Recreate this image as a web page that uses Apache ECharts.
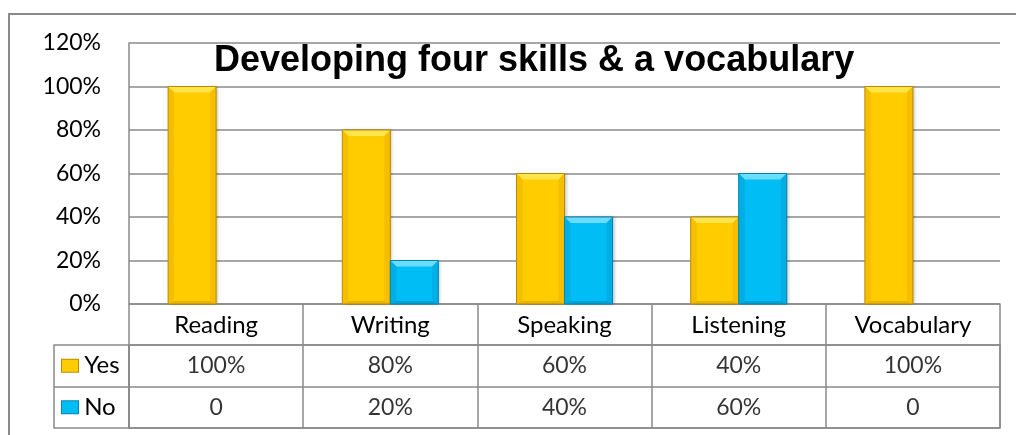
<!DOCTYPE html>
<html><head><meta charset="utf-8">
<script src="https://cdn.jsdelivr.net/npm/echarts@6/dist/echarts.min.js"></script>
<style>html,body{margin:0;padding:0;background:#fff}#c{width:1016px;height:435px}</style>
</head><body><div id="c"></div>
<script>
const categories = ['Reading', 'Writing', 'Speaking', 'Listening', 'Vocabulary'];
const seriesNames = ['Yes', 'No'];
const yesValues = [100, 80, 60, 40, 100];
const noValues = [0, 20, 40, 60, 0];
const yAxisMin = 0, yAxisMax = 120, yAxisStep = 20;

const GRAY = '#8a8a8a';
const FONT = 'Lato';
const colors = {
  Yes: {base: '#FFCC00', top: '#FFE54A', side: '#F5BE00', bottom: '#E8B400', edge: '#B88C00'},
  No:  {base: '#00BEF5', top: '#6ADCFF', side: '#00AEE6', bottom: '#00A2D8', edge: '#0086B3'}
};
function fmt(v) { return v === 0 ? '0' : v + '%'; }

const tableData = [];
seriesNames.forEach(function (s, ri) {
  const arr = ri === 0 ? yesValues : noValues;
  arr.forEach(function (v, ci) { tableData.push([ci, s, v]); });
});
const bevelData = [];
yesValues.forEach(function (v, i) { bevelData.push([i, v, 0]); });
noValues.forEach(function (v, i) { bevelData.push([i, v, 1]); });

const BAR_W = 48;
function renderBevel(params, api) {
  const ci = api.value(0), v = api.value(1), si = api.value(2);
  if (!v) return null;
  const top = api.coord([ci, v]);
  const base = api.coord([ci, 0]);
  const L = si === 0 ? top[0] - BAR_W : top[0];
  const R = L + BAR_W;
  const T = top[1], B = base[1];
  const b = Math.min(6, (B - T) / 2);
  const bb = Math.min(3, (B - T) / 2);
  const c = colors[seriesNames[si]];
  return {type: 'group', children: [
    {type: 'polygon', shape: {points: [[L, T], [R, T], [R - b, T + b], [L + b, T + b]]}, style: {fill: c.top}},
    {type: 'polygon', shape: {points: [[L, T], [L + b, T + b], [L + b, B - bb], [L, B]]}, style: {fill: c.side}},
    {type: 'polygon', shape: {points: [[R, T], [R, B], [R - b, B - bb], [R - b, T + b]]}, style: {fill: c.side}},
    {type: 'polygon', shape: {points: [[L, B], [R, B], [R - b, B - bb], [L + b, B - bb]]}, style: {fill: c.bottom}},
    {type: 'rect', shape: {x: L, y: T, width: BAR_W, height: B - T}, style: {fill: 'none', stroke: c.edge, lineWidth: 1}}
  ]};
}

const chart = echarts.init(document.getElementById('c'), null, {renderer: 'canvas'});
const lineStyle = {color: GRAY, width: 1.5};
chart.setOption({
  animation: false,
  backgroundColor: '#fff',
  title: {
    text: 'Developing four skills & a vocabulary',
    left: 214, top: 43, padding: 0,
    textStyle: {fontFamily: 'Liberation Sans', fontWeight: 'bold', fontSize: 36, color: '#000'}
  },
  graphic: [{
    type: 'polyline', silent: true,
    shape: {points: [[9, 435], [9, 14], [1016, 14]]},
    style: {stroke: GRAY, lineWidth: 2, fill: 'none'}
  }],
  grid: [
    {left: 129, right: 16, top: 43, height: 261},
    {left: 129, right: 16, top: 345, height: 83, show: true, borderColor: GRAY, borderWidth: 1.5}
  ],
  xAxis: [
    {type: 'category', gridIndex: 0, data: categories,
     axisLine: {lineStyle: lineStyle},
     axisTick: {show: true, interval: 0, length: 41, lineStyle: lineStyle},
     axisLabel: {interval: 0, margin: 9, color: '#000', fontFamily: FONT, fontSize: 24}},
    {type: 'category', gridIndex: 1, data: categories,
     axisLine: {show: false}, axisTick: {show: false}, axisLabel: {show: false},
     splitLine: {show: true, interval: 0, lineStyle: lineStyle}}
  ],
  yAxis: [
    {type: 'value', gridIndex: 0, min: yAxisMin, max: yAxisMax, interval: yAxisStep,
     axisLine: {show: true, lineStyle: lineStyle}, axisTick: {show: false},
     axisLabel: {formatter: '{value}%', margin: 28, color: '#000', fontFamily: FONT, fontSize: 23},
     splitLine: {show: true, lineStyle: lineStyle}},
    {type: 'category', gridIndex: 1, data: seriesNames, inverse: true,
     axisLine: {show: true, lineStyle: lineStyle},
     axisTick: {show: true, interval: 0, length: 75, lineStyle: lineStyle},
     splitLine: {show: true, interval: 0, lineStyle: lineStyle},
     axisLabel: {
       align: 'left', margin: 67,
       formatter: function (v) { return '{' + (v === 'Yes' ? 'iy' : 'ino') + '|}{t| ' + v + '}'; },
       rich: {
         iy: {width: 16, height: 12, backgroundColor: colors.Yes.base, borderColor: colors.Yes.edge, borderWidth: 1},
         ino: {width: 16, height: 12, backgroundColor: colors.No.base, borderColor: colors.No.edge, borderWidth: 1},
         t: {fontFamily: FONT, fontSize: 24, color: '#000'}
       }
     }},
    {type: 'category', gridIndex: 1, data: seriesNames, position: 'left', offset: 75,
     axisLine: {show: true, lineStyle: lineStyle}, axisTick: {show: false},
     axisLabel: {show: false}, splitLine: {show: false}}
  ],
  series: [
    {name: 'Yes', type: 'bar', xAxisIndex: 0, yAxisIndex: 0, data: yesValues,
     barWidth: BAR_W, barGap: '0%', itemStyle: {color: colors.Yes.base,
       shadowColor: 'rgba(0,0,0,0.25)', shadowBlur: 3, shadowOffsetX: 2}},
    {name: 'No', type: 'bar', xAxisIndex: 0, yAxisIndex: 0, data: noValues,
     barWidth: BAR_W, barGap: '0%', itemStyle: {color: colors.No.base,
       shadowColor: 'rgba(0,0,0,0.25)', shadowBlur: 3, shadowOffsetX: 2}},
    {name: 'bevel', type: 'custom', xAxisIndex: 0, yAxisIndex: 0, data: bevelData,
     renderItem: renderBevel, encode: {x: 0, y: 1}, z: 3, silent: true},
    {name: 'table', type: 'scatter', xAxisIndex: 1, yAxisIndex: 1, data: tableData,
     encode: {x: 0, y: 1}, symbol: 'rect', symbolSize: 1, silent: true,
     itemStyle: {color: 'rgba(0,0,0,0)'},
     label: {show: true, position: 'inside', color: '#000', fontFamily: FONT, fontSize: 23,
       formatter: function (p) { return fmt(p.value[2]); }}}
  ]
});
</script>
</body></html>
